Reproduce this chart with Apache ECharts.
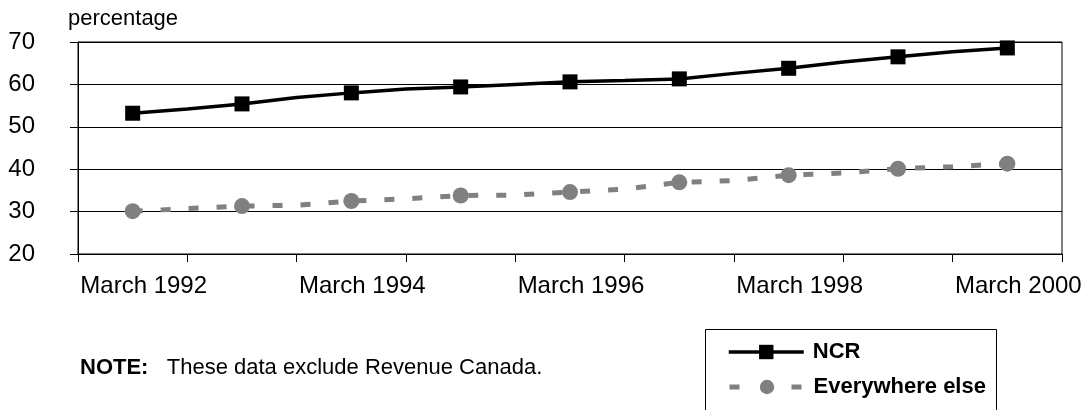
<!DOCTYPE html>
<html>
<head>
<meta charset="utf-8">
<script src="https://cdn.jsdelivr.net/npm/echarts@6/dist/echarts.min.js"></script>
<style>
  html, body { margin: 0; padding: 0; background: #fff; }
  #chart { width: 1089px; height: 410px; }
</style>
</head>
<body>
<div id="chart"></div>
<script>
// half-yearly periods, markers only on the March ones
var periods = [
  'March 1992', 'September 1992', 'March 1993', 'September 1993',
  'March 1994', 'September 1994', 'March 1995', 'September 1995',
  'March 1996', 'September 1996', 'March 1997', 'September 1997',
  'March 1998', 'September 1998', 'March 1999', 'September 1999',
  'March 2000'
];
var ncr = [53.2, 54.2, 55.4, 56.9, 58.0, 58.9, 59.4, 60.0, 60.6, 60.9, 61.3, 62.6, 63.8, 65.3, 66.5, 67.7, 68.6];
var elsewhere = [30.1, 30.7, 31.3, 31.5, 32.5, 33.0, 33.8, 33.9, 34.6, 35.3, 36.9, 37.3, 38.6, 39.1, 40.1, 40.6, 41.3];
var yTicks = [20, 30, 40, 50, 60, 70];
var shownLabels = ['March 1992', 'March 1994', 'March 1996', 'March 1998', 'March 2000'];

var FONT = '"Liberation Sans", Arial, sans-serif';

// pad half a year on each side so the ticks fall on the Septembers
var categories = [''].concat(periods, ['']);

function toData(values) {
  var out = [null];
  values.forEach(function (v, i) {
    if (periods[i].indexOf('March') === 0) {
      out.push(v);
    } else {
      out.push({ value: v, symbol: 'none' });
    }
  });
  out.push(null);
  return out;
}

var legendText = {
  color: '#000',
  fontFamily: FONT,
  fontSize: 22,
  fontWeight: 'bold',
  padding: [0, 0, 0, 4]
};

var chart = echarts.init(document.getElementById('chart'));

var option = {
  animation: false,
  grid: {
    left: 78, right: 27, top: 42, bottom: 156,
    show: true, borderColor: '#000', borderWidth: 1
  },
  xAxis: {
    type: 'category',
    data: categories,
    boundaryGap: false,
    axisLine: { lineStyle: { color: '#000', width: 1 } },
    axisTick: {
      length: 8,
      lineStyle: { color: '#000' },
      interval: function (idx) { return idx % 2 === 0; }
    },
    axisLabel: {
      interval: function (idx, val) { return shownLabels.indexOf(val) >= 0; },
      color: '#000',
      fontFamily: FONT,
      fontSize: 24,
      margin: 20,
      padding: [0, 0, 0, 22]
    },
    splitLine: { show: false }
  },
  yAxis: {
    type: 'value',
    min: yTicks[0],
    max: yTicks[yTicks.length - 1],
    interval: 10,
    axisLine: { show: true, lineStyle: { color: '#000', width: 1 } },
    axisTick: { show: true, length: 8, lineStyle: { color: '#000' } },
    axisLabel: {
      color: '#000',
      fontFamily: FONT,
      fontSize: 24,
      margin: 43
    },
    splitLine: { lineStyle: { color: '#000', width: 1 } }
  },
  legend: [
    {
      left: 727, top: 341,
      itemWidth: 75, itemHeight: 18,
      padding: 0,
      textStyle: legendText,
      data: [{ name: 'NCR', lineStyle: { width: 3.5 } }]
    },
    {
      left: 727, top: 376,
      itemWidth: 75, itemHeight: 18,
      padding: 0,
      textStyle: legendText,
      data: [{ name: 'Everywhere else', lineStyle: { width: 5, type: [10, 52] } }]
    }
  ],
  graphic: [
    {
      type: 'rect',
      shape: { x: 705.5, y: 329.5, width: 291, height: 120 },
      style: { fill: '#fff', stroke: '#000', lineWidth: 1 },
      z: -1
    },
    {
      type: 'text',
      left: 68,
      top: 8,
      style: { text: 'percentage', font: '22px ' + FONT, fill: '#000' }
    },
    {
      type: 'text',
      left: 80,
      top: 357,
      style: {
        text: '{b|NOTE:}   These data exclude Revenue Canada.',
        font: '22px ' + FONT,
        fill: '#000',
        rich: { b: { fontWeight: 'bold', fontSize: 22, fontFamily: FONT } }
      }
    }
  ],
  series: [
    {
      name: 'NCR',
      type: 'line',
      data: toData(ncr),
      symbol: 'rect',
      symbolSize: 15,
      showAllSymbol: true,
      color: '#000',
      itemStyle: { color: '#000' },
      lineStyle: { color: '#000', width: 3.5 }
    },
    {
      name: 'Everywhere else',
      type: 'line',
      data: toData(elsewhere),
      symbol: 'circle',
      symbolSize: 16,
      showAllSymbol: true,
      color: '#808080',
      itemStyle: { color: '#808080' },
      lineStyle: { color: '#808080', width: 5, type: [10, 18] }
    }
  ]
};

chart.setOption(option);
</script>
</body>
</html>
